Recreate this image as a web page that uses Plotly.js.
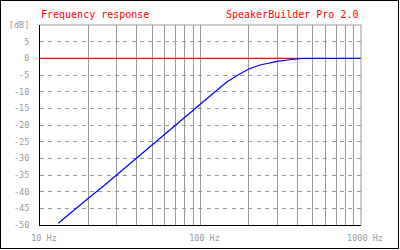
<!DOCTYPE html>
<html>
<head>
<meta charset="utf-8">
<script src="https://cdn.plot.ly/plotly-3.0.1.min.js"></script>
<style>
  html, body { margin: 0; padding: 0; background: #fff; }
  #wrap { position: relative; width: 400px; height: 250px; }
  #chart { width: 400px; height: 250px; }
  #frame { position: absolute; left: 0; top: 0; width: 399px; height: 249px;
           box-sizing: border-box; border: 1px solid #000; pointer-events: none; }
</style>
</head>
<body>
<div id="wrap"><div id="chart"></div><div id="frame"></div></div>
<script>
// Measured response (blue)
const freqHz = [13, 15, 20, 25, 30, 40, 50, 60, 70, 80, 90, 100, 109, 126, 145, 168, 200, 235, 270, 300, 350, 400, 430, 1000];
const responseDb = [-49.5, -47.1, -42.0, -38.2, -35.0, -30.1, -26.0, -22.9, -20.2, -17.8, -15.6, -13.7, -12.2, -9.5, -7.2, -5.2, -3.2, -2.0, -1.3, -0.9, -0.5, -0.2, 0, 0];
// Reference line (red)
const refHz = [10, 420];
const refDb = [0, 0];
// Axis ticks
const xTickVals = [10, 20, 30, 40, 50, 60, 70, 80, 90, 100, 200, 300, 400, 500, 600, 700, 800, 900, 1000];
const xTickText = ['10 Hz', '', '', '', '', '', '', '', '', '100 Hz', '', '', '', '', '', '', '', '', '1000 Hz'];
const yTickVals = [10, 5, 0, -5, -10, -15, -20, -25, -30, -35, -40, -45, -50];
const yTickText = ['[dB]', '5', '0', '-5', '-10', '-15', '-20', '-25', '-30', '-35', '-40', '-45', '-50'];
const chartTitle = 'Frequency response';
const brandText = 'SpeakerBuilder Pro 2.0';

const mono = 'DejaVu Sans Mono, Liberation Mono, monospace';

const traces = [
  { x: refHz, y: refDb, type: 'scatter', mode: 'lines',
    line: { color: '#ff0000', width: 1.2 }, hoverinfo: 'skip' },
  { x: freqHz, y: responseDb, type: 'scatter', mode: 'lines',
    line: { color: '#0000ff', width: 1.2 }, hoverinfo: 'skip' }
];

const layout = {
  width: 400, height: 250,
  margin: { l: 40, r: 39, t: 25, b: 25, pad: 0 },
  paper_bgcolor: '#ffffff', plot_bgcolor: '#ffffff',
  showlegend: false,
  xaxis: {
    type: 'log', range: [1, 3],
    tickmode: 'array', tickvals: xTickVals, ticktext: xTickText,
    showgrid: true, gridcolor: '#999999', gridwidth: 1,
    showline: true, linecolor: '#000000', linewidth: 1,
    zeroline: false, ticks: '',
    tickfont: { family: mono, size: 8.5, color: '#999999' },
    ticklabelstandoff: 5, ticklabelshift: 4
  },
  yaxis: {
    range: [-50, 10],
    tickmode: 'array', tickvals: yTickVals, ticktext: yTickText,
    showgrid: true, gridcolor: '#999999', gridwidth: 1, griddash: '4px,4.33px',
    showline: true, linecolor: '#000000', linewidth: 1,
    zeroline: false, ticks: '',
    tickfont: { family: mono, size: 8.5, color: '#999999' },
    ticklabelstandoff: 8, ticklabelshift: 3.5
  },
  shapes: [
    { type: 'line', xref: 'paper', yref: 'paper', x0: 0, x1: 1, y0: 1, y1: 1,
      line: { color: '#999999', width: 1 } },
    { type: 'line', xref: 'paper', yref: 'paper', x0: 1, x1: 1, y0: 0, y1: 1,
      line: { color: '#999999', width: 1 } }
  ],
  annotations: [
    { text: chartTitle, xref: 'paper', yref: 'paper', x: 0, y: 1.055,
      xanchor: 'left', yanchor: 'middle', showarrow: false, xshift: -1,
      font: { family: mono, size: 10, color: '#ff0000' } },
    { text: brandText, xref: 'paper', yref: 'paper', x: 1, y: 1.055,
      xanchor: 'right', yanchor: 'middle', showarrow: false, xshift: -1,
      font: { family: mono, size: 10, color: '#ff0000' } }
  ]
};

Plotly.newPlot('chart', traces, layout, { staticPlot: true, displayModeBar: false });
</script>
</body>
</html>
